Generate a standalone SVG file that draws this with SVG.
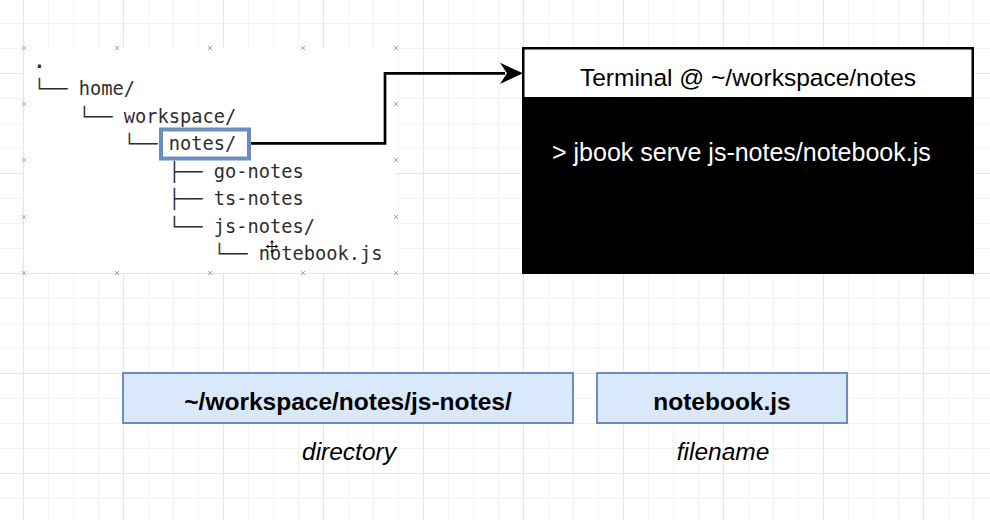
<svg xmlns="http://www.w3.org/2000/svg" width="990" height="520" viewBox="0 0 990 520">
  <style>
    .tree { font-family: "DejaVu Sans Mono", "Liberation Mono", monospace; font-size: 18.7px; fill: #2e2e2e; }
    .sans { font-family: "Liberation Sans", Arial, Helvetica, sans-serif; font-size: 24.5px; }
    .cmd { font-size: 25px; }
    .bold { font-weight: bold; fill: #000000; }
    .ital { font-style: italic; fill: #000000; }
    .box { fill: #dae8fc; stroke: #6c8ebf; stroke-width: 2; }
    .mk { stroke: #7fb2e5; stroke-width: 1; fill: none; }
    .conn { fill: none; stroke: #000000; stroke-width: 2.7; stroke-linejoin: miter; }
  </style>
  <defs>
    <pattern id="minor" patternUnits="userSpaceOnUse" x="23" y="23" width="25" height="25">
      <path d="M0.5 0V25M0 0.5H25" stroke="#f3f3f3" stroke-width="1" fill="none"/>
    </pattern>
    <pattern id="major" patternUnits="userSpaceOnUse" x="23" y="73" width="100" height="100">
      <path d="M0.5 0V100M0 0.5H100" stroke="#e6e6e6" stroke-width="1" fill="none"/>
    </pattern>
    <g id="x">
      <path class="mk" d="M-2 -2L2 2M-2 2L2 -2"/>
    </g>
  </defs>

  <rect x="0" y="0" width="990" height="520" fill="#ffffff"/>
  <rect x="0" y="0" width="990" height="520" fill="url(#minor)"/>
  <rect x="0" y="0" width="990" height="520" fill="url(#major)"/>

  <g id="tree">
    <rect x="24" y="48" width="372" height="225" fill="#ffffff"/>
    <text class="tree" x="33.8" y="67.5" font-weight="bold">.</text>
    <text class="tree" x="33.8" y="95">└── home/</text>
    <text class="tree" x="78.8" y="122.5">└── workspace/</text>
    <text class="tree" x="123.8" y="150">└── </text>
    <text class="tree" x="168.8" y="177.5">├── go-notes</text>
    <text class="tree" x="168.8" y="205">├── ts-notes</text>
    <text class="tree" x="168.8" y="232.5">└── js-notes/</text>
    <text class="tree" x="213.8" y="260">└── notebook.js</text>
    <g id="markers">
      <use href="#x" x="24" y="48"/><use href="#x" x="117" y="48"/><use href="#x" x="210" y="48"/><use href="#x" x="303" y="48"/><use href="#x" x="396" y="48"/>
      <use href="#x" x="24" y="273"/><use href="#x" x="117" y="273"/><use href="#x" x="210" y="273"/><use href="#x" x="303" y="273"/><use href="#x" x="396" y="273"/>
      <use href="#x" x="24" y="104"/><use href="#x" x="24" y="160"/><use href="#x" x="24" y="217"/>
      <use href="#x" x="396" y="104"/><use href="#x" x="396" y="160"/><use href="#x" x="396" y="217"/>
    </g>
    <g id="cursor" stroke="#000000" stroke-width="1" fill="#000000">
      <path d="M272 241V252M266.5 246.5H277.5" fill="none"/>
      <path d="M272 240L270 242.5H274Z M272 253L270 250.5H274Z M266 246.5L268.5 244.5V248.5Z M278 246.5L275.5 244.5V248.5Z" stroke="none"/>
    </g>
  </g>

  <g id="notes-highlight">
    <rect x="161" y="129.5" width="88" height="29" fill="#ffffff" stroke="#6c8ebf" stroke-width="4"/>
    <text class="tree" x="168.8" y="150">notes/</text>
  </g>

  <g id="connectors">
    <path class="conn" d="M251 143.3H385V73.3H505"/>
    <path d="M523 73.3L500 62.7L507 73.3L500 84Z" fill="#000000"/>
  </g>

  <g id="terminal">
    <rect x="523.25" y="48.25" width="449.5" height="224.5" fill="#000000" stroke="#000000" stroke-width="2.5"/>
    <rect x="524.5" y="49.5" width="447" height="47.5" fill="#ffffff"/>
    <text class="sans" x="748" y="86" text-anchor="middle" fill="#000000">Terminal @ ~/workspace/notes</text>
    <text class="sans cmd" x="552" y="161" fill="#ffffff">&gt; jbook serve js-notes/notebook.js</text>
  </g>

  <g id="directory">
    <rect class="box" x="123" y="373" width="450" height="50"/>
    <text class="sans bold" x="348" y="410" text-anchor="middle">~/workspace/notes/js-notes/</text>
    <text class="sans ital" x="349" y="460" text-anchor="middle">directory</text>
  </g>

  <g id="filename">
    <rect class="box" x="597" y="373" width="250" height="50"/>
    <text class="sans bold" x="722" y="410" text-anchor="middle">notebook.js</text>
    <text class="sans ital" x="723" y="460" text-anchor="middle">filename</text>
  </g>
</svg>
